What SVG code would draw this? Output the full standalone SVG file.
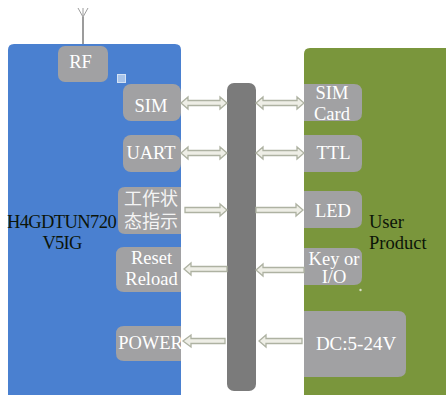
<svg xmlns="http://www.w3.org/2000/svg" width="446" height="395" viewBox="0 0 446 395">
<style>
.box{fill:#a1a1a3}
.w{fill:#fff;font-family:"Liberation Serif","Noto Sans CJK SC",serif;font-size:18.500px;text-anchor:middle}
.cjk{fill:#f4f4f4;font-family:"Noto Sans CJK SC",sans-serif;font-size:18px;text-anchor:middle}
.k{fill:#0c1408;font-family:"Liberation Serif",serif;font-size:18.500px;text-anchor:middle}
.a{fill:#eeeee6;stroke:#aeb2a2;stroke-width:1.3}
</style>
<rect width="446" height="395" fill="#fff"/>
<g id="antenna" fill="none" stroke="#9c9c9c">
<path d="M83 44V17" stroke-width="2"/>
<path d="M83 17L78 8M83 17L88 8M83 16V8" stroke-width="1"/>
</g>
<g id="h4gdtun720">
<path d="M8 395V50Q8 44 14 44H175Q181 44 181 50V395Z" fill="#4a80d0"/>
<text class="k" x="61.500" y="228" letter-spacing="-.6">H4GDTUN720</text>
<text class="k" x="62" y="249" letter-spacing="-.8">V5IG</text>
<rect x="117.500" y="74.500" width="8" height="8" fill="#a8c4ea" stroke="#d4e2f4"/>
</g>
<g id="user-product">
<path d="M304 395V54Q304 48 310 48H446V395Z" fill="#7a963c"/>
<text class="k" x="369" y="228" style="text-anchor:start">User</text>
<text class="k" x="369" y="249" style="text-anchor:start">Product</text>
<circle cx="360.500" cy="290" r="1.200" fill="#d8dfc8"/>
</g>
<g id="bus"><rect x="227" y="83" width="29" height="308" rx="7" fill="#7b7b7b"/></g>
<g id="rf"><rect class="box" x="58" y="46" width="50" height="36" rx="7"/><text class="w" x="80.500" y="68">RF</text></g>
<g id="sim"><rect class="box" x="123" y="84" width="58" height="37" rx="8"/><text class="w" x="151" y="112">SIM</text></g>
<g id="uart"><rect class="box" x="123" y="135" width="58" height="37" rx="8"/><text class="w" x="151" y="159">UART</text></g>
<g id="status"><path class="box" d="M181 187H125Q118 187 118 194V227Q118 234 125 234H181Z"/><text class="cjk" x="151" y="205">工作状</text><text class="cjk" x="151" y="228">态指示</text></g>
<g id="reset"><path class="box" d="M181 247H124Q116 247 116 255V284Q116 292 124 292H181Z"/><text class="w" x="151.500" y="264">Reset</text><text class="w" x="151.500" y="285">Reload</text></g>
<g id="power"><path class="box" d="M181 326H124Q116 326 116 334V353Q116 361 124 361H181Z"/><text class="w" x="150.500" y="349">POWER</text></g>
<g id="sim-card"><path class="box" d="M304 84H354Q362 84 362 92V113Q362 121 354 121H304Z"/><text class="w" x="332" y="99">SIM</text><text class="w" x="332" y="120">Card</text></g>
<g id="ttl"><path class="box" d="M304 135H354Q362 135 362 143V164Q362 172 354 172H304Z"/><text class="w" x="333.500" y="159">TTL</text></g>
<g id="led"><path class="box" d="M304 191H354Q362 191 362 199V220Q362 228 354 228H304Z"/><text class="w" x="333" y="217">LED</text></g>
<g id="key"><path class="box" d="M304 248H354Q362 248 362 256V277Q362 285 354 285H304Z"/><text class="w" x="334" y="265">Key or</text><text class="w" x="334" y="283">I/O</text></g>
<g id="dc"><path class="box" d="M304 311H398Q406 311 406 319V369Q406 377 398 377H304Z"/><text class="w" x="356" y="350" style="font-size:19px">DC:5-24V</text></g>
<g id="connectors">
<path class="a" d="M181 103L188 97V100.500H220V97L227 103L220 109V105.500H188V109Z"/>
<path class="a" d="M256 103L263 97V100.500H297V97L304 103L297 109V105.500H263V109Z"/>
<path class="a" d="M181 153L188 147V150.500H220V147L227 153L220 159V155.500H188V159Z"/>
<path class="a" d="M256 153L263 147V150.500H297V147L304 153L297 159V155.500H263V159Z"/>
<path class="a" d="M185 207.500H220V204L227 210L220 216V212.500H185Z"/>
<path class="a" d="M256 207.500H296V204L303 210L296 216V212.500H256Z"/>
<path class="a" d="M227 266.500H191V263L184 269L191 275V271.500H227Z"/>
<path class="a" d="M304 267.500H263V264L256 270L263 276V272.500H304Z"/>
<path class="a" d="M225 338.500H191V335L183 341L191 347V343.500H225Z"/>
<path class="a" d="M302 338.500H266V335L259 341L266 347V343.500H302Z"/>
</g>
</svg>
